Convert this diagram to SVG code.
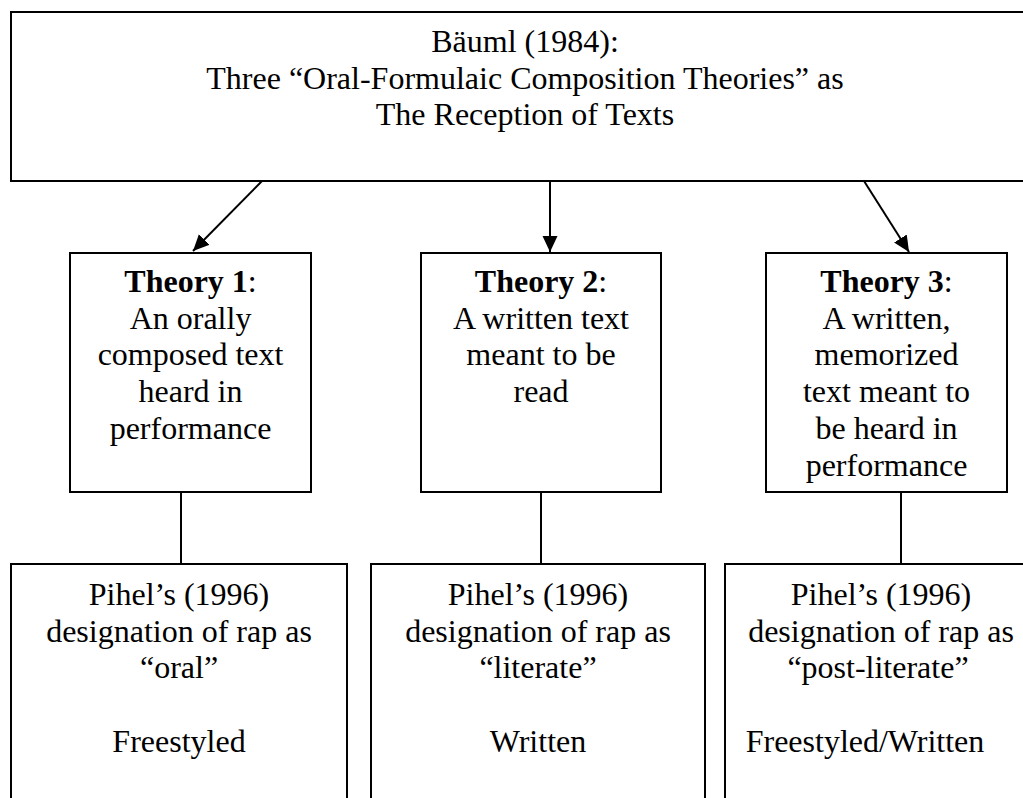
<svg xmlns="http://www.w3.org/2000/svg" width="1023" height="798" viewBox="0 0 1023 798">
<style>
.box{fill:#fff;stroke:#000;stroke-width:2}
.t{font-family:"Liberation Serif","Times New Roman",serif;font-size:32px;fill:#000;text-anchor:middle}
.b{font-weight:bold}
.c{stroke:#000;stroke-width:2;fill:none}
</style>
<defs>
<marker id="ah" markerUnits="userSpaceOnUse" markerWidth="18" markerHeight="16" refX="16" refY="7.5" orient="auto">
<path d="M0,0 L16,7.5 L0,15 Z" fill="#000"/>
</marker>
</defs>
<rect width="1023" height="798" fill="#fff"/>
<g id="connectors">
<line class="c" x1="262" y1="181" x2="193" y2="251" marker-end="url(#ah)"/>
<line class="c" x1="550" y1="181" x2="550" y2="252" marker-end="url(#ah)"/>
<line class="c" x1="864" y1="181" x2="909" y2="252" marker-end="url(#ah)"/>
<line class="c" x1="181" y1="492" x2="181" y2="564"/>
<line class="c" x1="541" y1="492" x2="541" y2="564"/>
<line class="c" x1="901" y1="492" x2="901" y2="564"/>
</g>
<g id="top">
<rect class="box" x="11" y="12" width="1040" height="169"/>
<text class="t" x="525" y="52">Bäuml (1984):</text>
<text class="t" x="525" y="88.7">Three “Oral-Formulaic Composition Theories” as</text>
<text class="t" x="525" y="125.4">The Reception of Texts</text>
</g>
<g id="theory1">
<rect class="box" x="70" y="253" width="241" height="239"/>
<text class="t" x="190.5" y="292"><tspan class="b">Theory 1</tspan>:</text>
<text class="t" x="190.5" y="328.7">An orally</text>
<text class="t" x="190.5" y="365.4">composed text</text>
<text class="t" x="190.5" y="402.1">heard in</text>
<text class="t" x="190.5" y="438.8">performance</text>
</g>
<g id="theory2">
<rect class="box" x="421" y="253" width="240" height="239"/>
<text class="t" x="541" y="292"><tspan class="b">Theory 2</tspan>:</text>
<text class="t" x="541" y="328.7">A written text</text>
<text class="t" x="541" y="365.4">meant to be</text>
<text class="t" x="541" y="402.1">read</text>
</g>
<g id="theory3">
<rect class="box" x="766" y="253" width="241" height="239"/>
<text class="t" x="886.5" y="292"><tspan class="b">Theory 3</tspan>:</text>
<text class="t" x="886.5" y="328.7">A written,</text>
<text class="t" x="886.5" y="365.4">memorized</text>
<text class="t" x="886.5" y="402.1">text meant to</text>
<text class="t" x="886.5" y="438.8">be heard in</text>
<text class="t" x="886.5" y="475.5">performance</text>
</g>
<g id="pihel1">
<rect class="box" x="11" y="564" width="336" height="260"/>
<text class="t" x="179" y="605">Pihel’s (1996)</text>
<text class="t" x="179" y="641.7">designation of rap as</text>
<text class="t" x="179" y="678.4">“oral”</text>
<text class="t" x="179" y="751.8">Freestyled</text>
</g>
<g id="pihel2">
<rect class="box" x="371" y="564" width="334" height="260"/>
<text class="t" x="538" y="605">Pihel’s (1996)</text>
<text class="t" x="538" y="641.7">designation of rap as</text>
<text class="t" x="538" y="678.4">“literate”</text>
<text class="t" x="538" y="751.8">Written</text>
</g>
<g id="pihel3">
<rect class="box" x="725" y="564" width="320" height="260"/>
<text class="t" x="881" y="605">Pihel’s (1996)</text>
<text class="t" x="881" y="641.7">designation of rap as</text>
<text class="t" x="878" y="678.4">“post-literate”</text>
<text class="t" x="865" y="751.8">Freestyled/Written</text>
</g>
</svg>
